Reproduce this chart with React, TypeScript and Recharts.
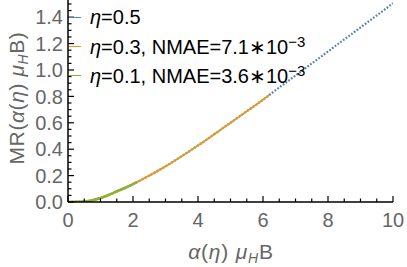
import React from "react";
import { LineChart, Line, XAxis, YAxis } from "recharts";

// η = 0.5 (full range, dotted)
const xHalf = [0, 0.5, 1, 1.5, 2, 2.5, 3, 3.5, 4, 4.5, 5, 5.5, 6, 6.5, 7, 7.5, 8, 8.5, 9, 9.5, 10];
const mrHalf = [0, 0.004, 0.03, 0.08, 0.135, 0.2, 0.27, 0.347, 0.428, 0.513, 0.6, 0.687, 0.775, 0.867, 0.958, 1.049, 1.14, 1.231, 1.322, 1.413, 1.505];

// η = 0.3
const xMid = [0, 0.5, 1, 1.5, 2, 2.5, 3, 3.5, 4, 4.5, 5, 5.5, 6, 6.2];
const mrMid = [0, 0.004, 0.03, 0.08, 0.135, 0.2, 0.27, 0.347, 0.428, 0.513, 0.6, 0.687, 0.775, 0.812];

// η = 0.1
const xLow = [0, 0.25, 0.5, 0.75, 1, 1.25, 1.5, 1.75, 2, 2.1];
const mrLow = [0, 0.001, 0.004, 0.014, 0.03, 0.053, 0.08, 0.106, 0.135, 0.148];

const xMajor = [0, 2, 4, 6, 8, 10];
const yMajor = [0, 0.2, 0.4, 0.6, 0.8, 1.0, 1.2, 1.4];

const xTicks: number[] = [];
for (let i = 0; i <= 20; i++) xTicks.push(i * 0.5);
const yTicks: number[] = [];
for (let i = 0; i <= 30; i++) yTicks.push(Math.round(i * 5) / 100);

const toPoints = (xs: number[], ys: number[]) => xs.map((x, i) => ({ x, mr: ys[i] }));

const AXIS_X = 68;
const AXIS_Y = 202;
const GRAY = "#666";
const FONT = "'Liberation Sans', Arial, sans-serif";

const isMajor = (v: number, list: number[]) => list.some((m) => Math.abs(m - v) < 1e-6);

const YTick = (props: any) => {
  const { x, y, payload } = props;
  const major = isMajor(payload.value, yMajor);
  return (
    <g>
      <line x1={AXIS_X} x2={AXIS_X + (major ? 6 : 3.5)} y1={y} y2={y} stroke="#000" strokeWidth={1.2} />
      {major && (
        <text x={x} y={y} dy="0.36em" textAnchor="end" fill={GRAY} fontSize={20} fontFamily={FONT}>
          {payload.value.toFixed(1)}
        </text>
      )}
    </g>
  );
};

const XTick = (props: any) => {
  const { x, y, payload } = props;
  const major = isMajor(payload.value, xMajor);
  return (
    <g>
      <line x1={x} x2={x} y1={AXIS_Y} y2={AXIS_Y - (major ? 6 : 3.5)} stroke="#000" strokeWidth={1.2} />
      {major && (
        <text x={x} y={y} dy="0.36em" textAnchor="middle" fill={GRAY} fontSize={20} fontFamily={FONT}>
          {payload.value}
        </text>
      )}
    </g>
  );
};

const XTitle = () => (
  <text x={231} y={251} dy="0.36em" textAnchor="middle" fill={GRAY} fontSize={21} fontFamily={FONT} letterSpacing={0.8}>
    <tspan fontStyle="italic">α</tspan>(<tspan fontStyle="italic">η</tspan>) <tspan fontStyle="italic">μ</tspan>
    <tspan dy={4} fontSize={14} fontStyle="italic">H</tspan>
    <tspan dy={-4}>B</tspan>
  </text>
);

const YTitle = () => (
  <text
    x={16}
    y={98}
    dy="0.36em"
    textAnchor="middle"
    fill={GRAY}
    fontSize={21}
    fontFamily={FONT}
    letterSpacing={0.6}
    transform="rotate(-90 16 98)"
  >
    MR(<tspan fontStyle="italic">α</tspan>(<tspan fontStyle="italic">η</tspan>) <tspan fontStyle="italic">μ</tspan>
    <tspan dy={4} fontSize={14} fontStyle="italic">H</tspan>
    <tspan dy={-4}>B)</tspan>
  </text>
);

const legendRows = [
  { color: "#5E81B5", eta: "0.5", nmae: "", exp: "" },
  { color: "#E19C24", eta: "0.3", nmae: "7.1", exp: "−3" },
  { color: "#8FB032", eta: "0.1", nmae: "3.6", exp: "−3" },
];

const LegendBox = () => (
  <div style={{ position: "absolute", left: 69, top: 3, fontFamily: FONT, fontSize: 20, color: "#000" }}>
    {legendRows.map((r) => (
      <div key={r.eta} style={{ display: "flex", alignItems: "center", height: 29 }}>
        <div style={{ width: 12, height: 0, borderTop: `1.5px solid ${r.color}`, marginRight: 9 }} />
        <span style={{ whiteSpace: "nowrap" }}>
          <i>η</i>={r.eta}
          {r.nmae && (
            <>
              , NMAE={r.nmae}∗10<sup style={{ fontSize: 15, verticalAlign: "7px", lineHeight: 0 }}>{r.exp}</sup>
            </>
          )}
        </span>
      </div>
    ))}
  </div>
);

export default function App() {
  return (
    <div style={{ position: "absolute", left: 0, top: 0, width: 407, height: 267, background: "#fff" }}>
      <LineChart width={407} height={267} margin={{ top: 0, right: 14, left: 0, bottom: 0 }}>
        <XAxis
          dataKey="x"
          type="number"
          domain={[0, 10]}
          ticks={xTicks}
          interval={0}
          height={65}
          tickSize={0}
          tickMargin={18}
          tick={<XTick />}
          axisLine={{ stroke: "#000", strokeWidth: 1.5 }}
          tickLine={false}
          label={<XTitle />}
          allowDataOverflow
        />
        <YAxis
          type="number"
          domain={[0, 1.53]}
          ticks={yTicks}
          interval={0}
          width={68}
          tickSize={0}
          tickMargin={5}
          tick={<YTick />}
          axisLine={{ stroke: "#000", strokeWidth: 1.5 }}
          tickLine={false}
          label={<YTitle />}
          allowDataOverflow
        />
        <Line
          data={toPoints(xHalf, mrHalf)}
          dataKey="mr"
          type="monotone"
          stroke="#5E81B5"
          strokeWidth={2.2}
          strokeDasharray="1.8 1.6"
          dot={false}
          isAnimationActive={false}
        />
        <Line
          data={toPoints(xMid, mrMid)}
          dataKey="mr"
          type="monotone"
          stroke="#E19C24"
          strokeWidth={1.8}
          dot={false}
          isAnimationActive={false}
        />
        <Line
          data={toPoints(xLow, mrLow)}
          dataKey="mr"
          type="monotone"
          stroke="#8FB032"
          strokeWidth={2.6}
          dot={false}
          isAnimationActive={false}
        />
      </LineChart>
      <LegendBox />
    </div>
  );
}
